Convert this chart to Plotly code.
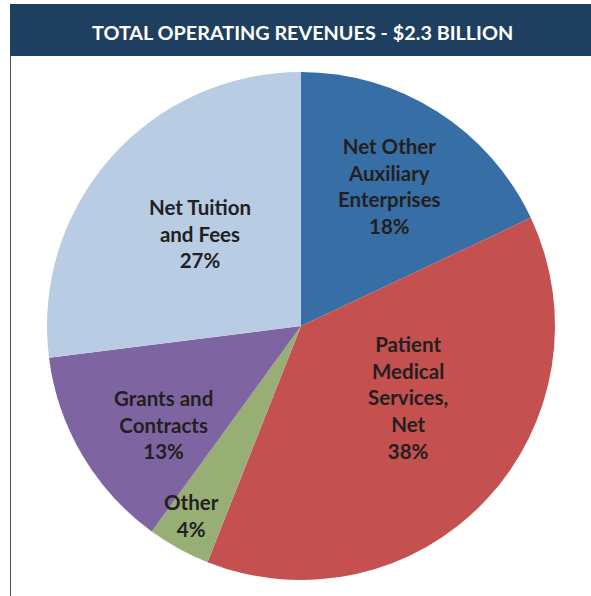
import plotly.graph_objects as go

# revenue shares, clockwise from 12 o'clock
categories = [
    "Net Other<br>Auxiliary<br>Enterprises",
    "Patient<br>Medical<br>Services,<br>Net",
    "Other",
    "Grants and<br>Contracts",
    "Net Tuition<br>and Fees",
]
shares = [18, 38, 4, 13, 27]
colors = ["#376EA5", "#C4504F", "#97AF74", "#7F64A2", "#B8CCE4"]
title_text = "TOTAL OPERATING REVENUES - $2.3 BILLION"

W, H = 591, 596
cx, cy, r = 301, 326, 254

fig = go.Figure()
fig.add_trace(
    go.Pie(
        labels=categories,
        values=shares,
        sort=False,
        direction="clockwise",
        rotation=0,
        marker=dict(colors=colors, line=dict(width=0)),
        textinfo="none",
        hoverinfo="label+percent",
        showlegend=False,
        domain=dict(
            x=[(cx - r) / W, (cx + r) / W],
            y=[1 - (cy + r) / H, 1 - (cy - r) / H],
        ),
    )
)

# label centres (pixels) for each slice
label_pos = [(389, 186), (408, 397), (191, 515), (163, 424), (200, 234)]
for name, val, (lx, ly) in zip(categories, shares, label_pos):
    fig.add_annotation(
        x=lx / W,
        y=1 - ly / H,
        xref="paper",
        yref="paper",
        xanchor="center",
        yanchor="middle",
        text=f"<b>{name}<br>{val}%</b>",
        showarrow=False,
        align="center",
        font=dict(family="Lato", size=20.5, color="#231F20"),
    )

# header bar and left frame line
fig.add_shape(
    type="rect", xref="paper", yref="paper",
    x0=10 / W, x1=1, y0=1 - 56 / H, y1=1 - 4 / H,
    fillcolor="#1F3F60", line=dict(width=0), layer="below",
)
fig.add_shape(
    type="line", xref="paper", yref="paper",
    x0=10.5 / W, x1=10.5 / W, y0=0, y1=1 - 56 / H,
    line=dict(color="#555555", width=1),
)
fig.add_annotation(
    x=302 / W, y=1 - 32 / H, xref="paper", yref="paper",
    xanchor="center", yanchor="middle",
    text=f"<b>{title_text}</b>", showarrow=False,
    font=dict(family="Lato", size=19.8, color="white"),
)

fig.update_layout(
    width=W,
    height=H,
    margin=dict(l=0, r=0, t=0, b=0),
    paper_bgcolor="white",
    plot_bgcolor="white",
)

fig.write_html(
    "out.html",
    config={"displayModeBar": False},
    post_script="document.body.style.margin='0';document.body.style.overflow='hidden';",
)
